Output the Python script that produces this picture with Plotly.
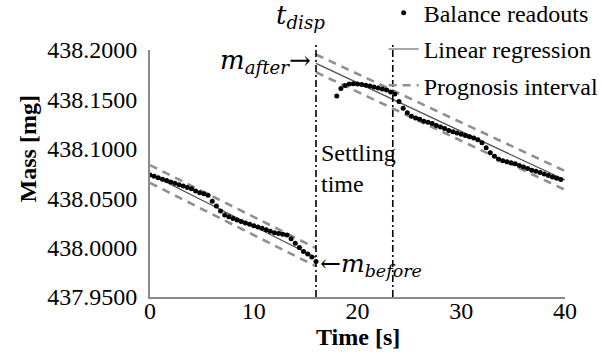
import plotly.graph_objects as go

# ---------------- data ----------------
t_before = [0.0, 0.4, 0.8, 1.2, 1.6, 2.0, 2.4, 2.8, 3.2, 3.6, 4.0, 4.4, 4.8, 5.2, 5.6, 6.0, 6.4, 6.8,
            7.2, 7.6, 8.0, 8.4, 8.8, 9.2, 9.6, 10.0, 10.4, 10.8, 11.2, 11.6, 12.0, 12.4, 12.8, 13.2,
            13.6, 14.0, 14.4, 14.8, 15.2, 15.6, 16.0]
m_before = [438.0735, 438.0721, 438.0707, 438.0693, 438.0679, 438.0665, 438.0651, 438.0637, 438.0623,
            438.0609, 438.0595, 438.0573, 438.0555, 438.0545, 438.0530, 438.0470, 438.0420, 438.0370,
            438.0330, 438.0313, 438.0295, 438.0280, 438.0264, 438.0250, 438.0236, 438.0222, 438.0208,
            438.0195, 438.0180, 438.0165, 438.0150, 438.0142, 438.0136, 438.0128, 438.0090, 438.0045,
            438.0000, 437.9960, 437.9935, 437.9905, 437.9860]

t_after = [18.0, 18.4, 18.8, 19.2, 19.6, 20.0, 20.4, 20.8, 21.2, 21.6, 22.0, 22.4, 22.8, 23.2, 23.6,
           24.0, 24.4, 24.8, 25.2, 25.6, 26.0, 26.4, 26.8, 27.2, 27.6, 28.0, 28.4, 28.8, 29.2, 29.6,
           30.0, 30.4, 30.8, 31.2, 31.6, 32.0, 32.4, 32.8, 33.2, 33.6, 34.0, 34.4, 34.8, 35.2, 35.6,
           36.0, 36.4, 36.8, 37.2, 37.6, 38.0, 38.4, 38.8, 39.2, 39.6]
m_after = [438.1534, 438.1610, 438.1640, 438.1655, 438.1658, 438.1655, 438.1650, 438.1643, 438.1635,
           438.1626, 438.1615, 438.1605, 438.1595, 438.1575, 438.1555, 438.1480, 438.1410, 438.1365,
           438.1330, 438.1312, 438.1298, 438.1280, 438.1268, 438.1255, 438.1235, 438.1220, 438.1205,
           438.1185, 438.1172, 438.1160, 438.1147, 438.1135, 438.1122, 438.1110, 438.1092, 438.1060,
           438.1010, 438.0960, 438.0925, 438.0893, 438.0880, 438.0870, 438.0860, 438.0848, 438.0830,
           438.0815, 438.0800, 438.0783, 438.0772, 438.0760, 438.0745, 438.0730, 438.0715, 438.0703,
           438.0690]

# regression lines (before / after), end points
reg_t = [0, 16, None, 16, 40]
reg_m = [438.0745, 437.9900, None, 438.1865, 438.0684]
# prognosis interval bounds
pi_t = [0, 16, None, 0, 16, None, 16, 40, None, 16, 40]
pi_m = [438.0835, 437.9995, None, 438.0655, 437.9810, None,
        438.1955, 438.0775, None, 438.1775, 438.0585]

t_disp = 16.0
t_settled = 23.4

x_ticks = [0, 10, 20, 30, 40]
y_ticks = [437.95, 438.00, 438.05, 438.10, 438.15, 438.20]
y_min, y_max = 437.95, 438.20

SERIF = "Liberation Serif, Times New Roman, Times, serif"
MATH = "DejaVu Serif"
FS = 24

fig = go.Figure()
fig.add_trace(go.Scatter(x=pi_t, y=pi_m, mode="lines", name="Prognosis interval",
                         line=dict(color="#8f8f8f", width=2.6, dash="8px,6px"),
                         legendgroup="c", legendrank=3))
fig.add_trace(go.Scatter(x=reg_t, y=reg_m, mode="lines", name="Linear regression",
                         line=dict(color="#505050", width=1.2),
                         legendgroup="b", legendrank=2))
fig.add_trace(go.Scatter(x=t_before + [None] + t_after, y=m_before + [None] + m_after,
                         mode="markers", name="Balance readouts",
                         marker=dict(color="black", size=5),
                         legendgroup="a", legendrank=1))

# vertical dash-dot lines
for tv in (t_disp, t_settled):
    fig.add_shape(type="line", xref="x", yref="paper", x0=tv, x1=tv, y0=0, y1=1.02,
                  line=dict(color="black", width=1.6, dash="7px,3px,2px,3px"))

fig.add_annotation(x=14.5, y=1.135, xref="x", yref="paper", showarrow=False,
                   xanchor="center", yanchor="middle",
                   text="<i>t</i><sub><i>disp</i></sub>", font=dict(family=MATH, size=26, color="black"))
fig.add_annotation(x=6.55, y=0.955, xref="x", yref="paper", xanchor="left", yanchor="middle",
                   showarrow=False,
                   text="<i>m</i><sub><i>after</i></sub>→", font=dict(family=MATH, size=26, color="black"))
fig.add_annotation(x=16.2, y=0.13, xref="x", yref="paper", xanchor="left", yanchor="middle",
                   showarrow=False,
                   text="←<i>m</i><sub><i>before</i></sub>", font=dict(family=MATH, size=25, color="black"))
fig.add_annotation(x=16.3, y=0.52, xref="x", yref="paper", xanchor="left", yanchor="middle",
                   align="left", showarrow=False, text="Settling<br>time",
                   font=dict(family=SERIF, size=FS, color="black"))
fig.add_annotation(x=-0.295, y=0.6, xref="paper", yref="paper", xanchor="center", yanchor="middle",
                   showarrow=False, textangle=-90,
                   text="<b>Mass [mg]</b>", font=dict(family=SERIF, size=FS, color="black"))
fig.add_annotation(x=0.5, y=-0.162, xref="paper", yref="paper", xanchor="center", yanchor="middle",
                   showarrow=False,
                   text="<b>Time [s]</b>", font=dict(family=SERIF, size=FS, color="black"))

axis_common = dict(showgrid=False, zeroline=False, showline=True, linecolor="#8a8a8a",
                   linewidth=2, ticks="", tickfont=dict(family=SERIF, size=FS, color="black"))
fig.update_xaxes(range=[0, 40], tickvals=x_ticks, ticklabelstandoff=-9, **axis_common)
fig.update_yaxes(range=[y_min, y_max], tickvals=y_ticks, tickformat=".4f",
                 ticklabelstandoff=6, **axis_common)

fig.update_layout(
    width=602, height=358,
    margin=dict(l=150, r=37, t=50, b=61, autoexpand=False),
    paper_bgcolor="white", plot_bgcolor="white",
    font=dict(family=SERIF, size=FS, color="black"),
    showlegend=True,
    legend=dict(x=0.563, y=1.24, xanchor="left", yanchor="top", tracegroupgap=2,
                font=dict(family=SERIF, size=FS, color="black"),
                bgcolor="rgba(0,0,0,0)", itemwidth=30, traceorder="grouped"),
)

fig.write_html("out.html")
